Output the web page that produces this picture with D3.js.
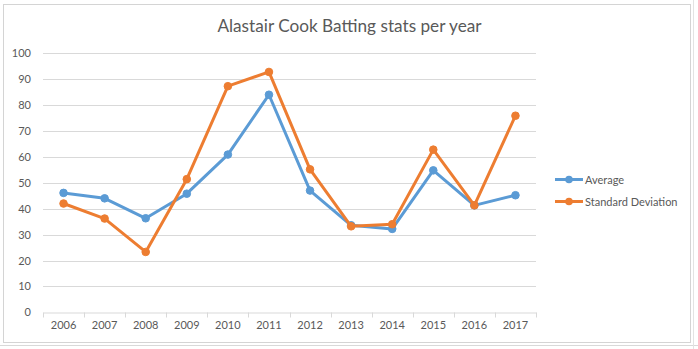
<!DOCTYPE html>
<html><head><meta charset="utf-8">
<script src="https://cdn.jsdelivr.net/npm/d3@7"></script>
<style>html,body{margin:0;padding:0;background:#fff;}svg{display:block;}</style>
</head><body>
<svg id="chart" width="698" height="349"></svg>
<script>
const years = ["2006","2007","2008","2009","2010","2011","2012","2013","2014","2015","2016","2017"];
const average = [46.1, 44.0, 36.3, 45.8, 60.9, 84.0, 47.0, 33.6, 32.2, 54.8, 41.3, 45.2];
const stdDev = [42.0, 36.2, 23.3, 51.4, 87.3, 92.8, 55.2, 33.2, 34.0, 62.8, 41.3, 75.9];
const yTicks = [0,10,20,30,40,50,60,70,80,90,100];
const seriesNames = ["Average","Standard Deviation"];
const colors = ["#5B9BD5","#ED7D31"];

(function(){
const svg = d3.select("#chart");
const font = "Lato, 'Open Sans', sans-serif";
const txt = "#595959";

// chart frame
svg.append("rect").attr("x",3.5).attr("y",4.5).attr("width",687).attr("height",338)
  .attr("fill","#fff").attr("stroke","#d4d4d4").attr("stroke-width",1);
svg.append("line").attr("x1",0).attr("x2",698).attr("y1",345.5).attr("y2",345.5).attr("stroke","#d9d9d9");
svg.append("line").attr("x1",693.5).attr("x2",693.5).attr("y1",0).attr("y2",349).attr("stroke","#e3e3e3");

const pLeft = 43, pRight = 536, pTop = 53.3, pBottom = 312.3;
const x = d3.scaleBand().domain(years).range([pLeft,pRight]);
const y = d3.scaleLinear().domain([0,100]).range([pBottom,pTop]);

// title
svg.append("text").attr("x",349.5).attr("y",31.5).attr("text-anchor","middle")
  .attr("font-family",font).attr("font-size",17.2).attr("fill",txt)
  .text("Alastair Cook Batting stats per year");

// gridlines
svg.append("g").selectAll("line").data(yTicks.filter(d=>d>0)).join("line")
  .attr("x1",pLeft).attr("x2",pRight)
  .attr("y1",d=>Math.round(y(d))+0.5).attr("y2",d=>Math.round(y(d))+0.5)
  .attr("stroke","#d9d9d9").attr("stroke-width",1);

// y axis labels
const yAxis = d3.axisLeft(y).tickValues(yTicks).tickSize(0).tickPadding(0);
const gy = svg.append("g").attr("transform",`translate(31,0)`).call(yAxis);
gy.select(".domain").remove();
gy.selectAll("text").attr("font-family",font).attr("font-size",11).attr("fill",txt);

// x axis
const xAxis = d3.axisBottom(x).tickSize(0).tickPadding(9);
const gx = svg.append("g").attr("transform",`translate(0,${Math.round(pBottom)+0.5})`).call(xAxis);
gx.select(".domain").attr("stroke","#d9d9d9");
gx.selectAll("text").attr("font-family",font).attr("font-size",11).attr("fill",txt);
const bounds = years.map(d=>x(d)).concat([pRight]);
gx.append("g").selectAll("line").data(bounds).join("line")
  .attr("x1",d=>Math.round(d)+0.5).attr("x2",d=>Math.round(d)+0.5)
  .attr("y1",0).attr("y2",5).attr("stroke","#d9d9d9");

// series
const series = [average, stdDev];
const line = d3.line().x((d,i)=>x(years[i])+x.bandwidth()/2).y(d=>y(d));
series.forEach((vals,si)=>{
  const g = svg.append("g");
  g.append("path").datum(vals).attr("d",line).attr("fill","none")
    .attr("stroke",colors[si]).attr("stroke-width",3).attr("stroke-linejoin","round").attr("stroke-linecap","round");
  g.selectAll("circle").data(vals).join("circle")
    .attr("cx",(d,i)=>x(years[i])+x.bandwidth()/2).attr("cy",d=>y(d)).attr("r",3.8)
    .attr("fill",colors[si]).attr("stroke",colors[si]).attr("stroke-width",1);
});

// legend
const lg = svg.append("g");
seriesNames.forEach((name,i)=>{
  const ly = 179.5 + i*22;
  lg.append("line").attr("x1",555).attr("x2",583).attr("y1",ly).attr("y2",ly)
    .attr("stroke",colors[i]).attr("stroke-width",3);
  lg.append("circle").attr("cx",569).attr("cy",ly).attr("r",3.8).attr("fill",colors[i]);
  lg.append("text").attr("x",585).attr("y",ly+4).attr("font-family",font).attr("font-size",11)
    .attr("fill",txt).text(name);
});
})();
</script>
</body></html>
